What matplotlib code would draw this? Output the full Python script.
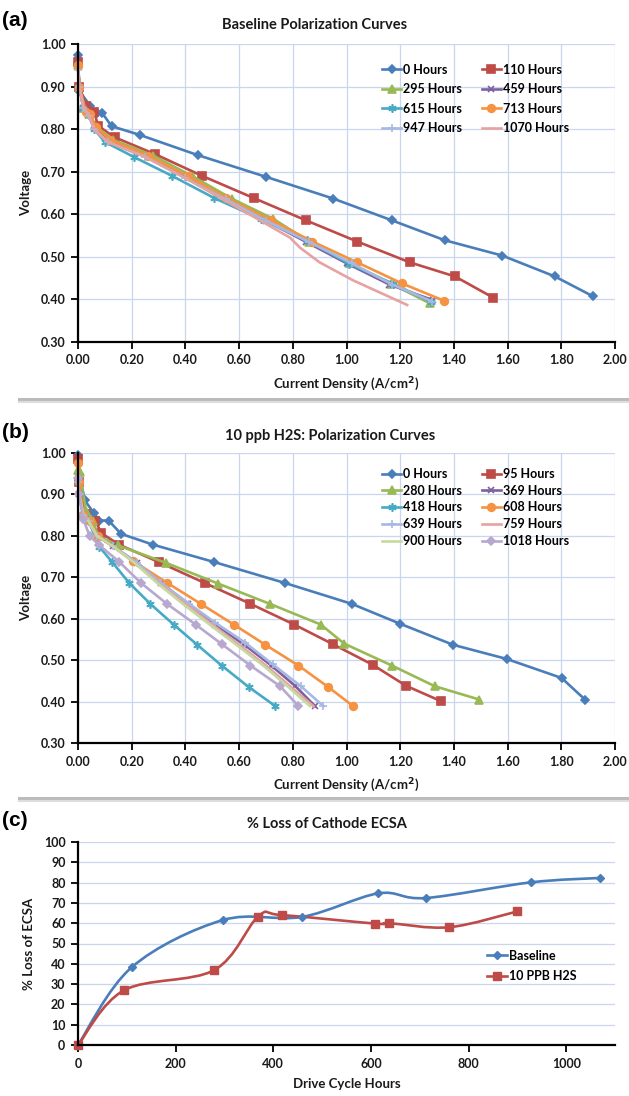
import numpy as np
import matplotlib
matplotlib.use("Agg")
import matplotlib.pyplot as plt
from matplotlib.path import Path
from matplotlib.patches import PathPatch
from matplotlib.lines import Line2D

plt.rcParams['font.family'] = ['Lato', 'DejaVu Sans']
plt.rcParams['font.weight'] = 'bold'

# ---- (a) baseline polarization curves ----
a_labels = ['0 Hours', '110 Hours', '295 Hours', '459 Hours',
            '615 Hours', '713 Hours', '947 Hours', '1070 Hours']
a_x = [
    [0.00, 0.005, 0.045, 0.07, 0.09, 0.125, 0.232, 0.446, 0.70, 0.95, 1.168, 1.366, 1.58, 1.776, 1.919],
    [0.00, 0.005, 0.03, 0.06, 0.075, 0.136, 0.288, 0.463, 0.655, 0.848, 1.04, 1.236, 1.404, 1.547],
    [0.00, 0.005, 0.02, 0.04, 0.07, 0.13, 0.28, 0.43, 0.575, 0.728, 0.86, 1.01, 1.166, 1.31],
    [0.00, 0.005, 0.02, 0.04, 0.07, 0.12, 0.26, 0.41, 0.55, 0.70, 0.85, 1.00, 1.16, 1.323],
    [0.00, 0.005, 0.02, 0.04, 0.06, 0.10, 0.21, 0.351, 0.508, 0.68, 0.852, 1.009, 1.173, 1.315],
    [0.00, 0.005, 0.03, 0.045, 0.067, 0.12, 0.26, 0.411, 0.553, 0.72, 0.873, 1.04, 1.205, 1.363],
    [0.00, 0.005, 0.02, 0.04, 0.06, 0.11, 0.25, 0.40, 0.55, 0.70, 0.86, 1.02, 1.17, 1.32],
    [0.00, 0.005, 0.02, 0.04, 0.06, 0.11, 0.25, 0.40, 0.54, 0.68, 0.79, 0.826, 0.90, 1.024, 1.226],
]
a_y = [
    [0.973, 0.89, 0.855, 0.838, 0.838, 0.807, 0.786, 0.739, 0.688, 0.637, 0.586, 0.539, 0.503, 0.454, 0.407],
    [0.958, 0.90, 0.855, 0.84, 0.808, 0.781, 0.741, 0.69, 0.638, 0.586, 0.536, 0.487, 0.454, 0.404],
    [0.95, 0.90, 0.85, 0.835, 0.805, 0.775, 0.738, 0.688, 0.636, 0.589, 0.536, 0.486, 0.437, 0.391],
    [0.95, 0.90, 0.85, 0.835, 0.80, 0.775, 0.735, 0.685, 0.635, 0.585, 0.535, 0.485, 0.435, 0.398],
    [0.95, 0.90, 0.85, 0.835, 0.80, 0.77, 0.734, 0.69, 0.638, 0.589, 0.539, 0.484, 0.437, 0.394],
    [0.95, 0.90, 0.84, 0.835, 0.805, 0.775, 0.738, 0.689, 0.638, 0.586, 0.536, 0.487, 0.438, 0.397],
    [0.94, 0.90, 0.85, 0.83, 0.80, 0.77, 0.735, 0.685, 0.635, 0.585, 0.535, 0.485, 0.435, 0.395],
    [0.94, 0.90, 0.85, 0.835, 0.80, 0.77, 0.735, 0.685, 0.635, 0.585, 0.545, 0.522, 0.487, 0.445, 0.387],
]

# ---- (b) 10 ppb H2S polarization curves ----
b_labels = ['0 Hours', '95 Hours', '280 Hours', '369 Hours', '418 Hours',
            '608 Hours', '639 Hours', '759 Hours', '900 Hours', '1018 Hours']
b_x = [
    [0.00, 0.005, 0.025, 0.059, 0.08, 0.114, 0.16, 0.278, 0.506, 0.772, 1.019, 1.199, 1.397, 1.596, 1.801, 1.888],
    [0.00, 0.004, 0.028, 0.065, 0.086, 0.152, 0.30, 0.473, 0.642, 0.805, 0.951, 1.097, 1.222, 1.352],
    [0.00, 0.006, 0.03, 0.056, 0.074, 0.148, 0.327, 0.521, 0.714, 0.904, 0.991, 1.169, 1.329, 1.494],
    [0.00, 0.004, 0.02, 0.04, 0.07, 0.13, 0.22, 0.31, 0.41, 0.51, 0.62, 0.72, 0.81, 0.883],
    [0.00, 0.004, 0.02, 0.04, 0.08, 0.127, 0.191, 0.269, 0.356, 0.444, 0.535, 0.636, 0.735],
    [0.00, 0.004, 0.02, 0.045, 0.074, 0.206, 0.331, 0.457, 0.58, 0.698, 0.821, 0.932, 1.025],
    [0.00, 0.004, 0.02, 0.04, 0.07, 0.13, 0.22, 0.31, 0.414, 0.512, 0.623, 0.725, 0.83, 0.914],
    [0.00, 0.004, 0.02, 0.04, 0.07, 0.13, 0.21, 0.30, 0.40, 0.50, 0.60, 0.70, 0.79, 0.877],
    [0.00, 0.004, 0.02, 0.04, 0.07, 0.13, 0.21, 0.295, 0.39, 0.49, 0.59, 0.69, 0.78, 0.864],
    [0.00, 0.004, 0.02, 0.043, 0.08, 0.154, 0.235, 0.331, 0.438, 0.537, 0.642, 0.753, 0.821],
]
b_y = [
    [0.995, 0.95, 0.886, 0.855, 0.837, 0.837, 0.805, 0.779, 0.737, 0.686, 0.636, 0.588, 0.537, 0.503, 0.457, 0.405],
    [0.986, 0.93, 0.852, 0.837, 0.807, 0.779, 0.737, 0.686, 0.636, 0.586, 0.538, 0.489, 0.438, 0.401],
    [0.96, 0.954, 0.86, 0.837, 0.80, 0.777, 0.735, 0.685, 0.636, 0.586, 0.54, 0.487, 0.437, 0.405],
    [0.93, 0.90, 0.85, 0.835, 0.80, 0.775, 0.735, 0.686, 0.636, 0.586, 0.537, 0.487, 0.437, 0.389],
    [0.93, 0.90, 0.85, 0.835, 0.773, 0.737, 0.686, 0.636, 0.586, 0.537, 0.487, 0.435, 0.389],
    [0.976, 0.93, 0.85, 0.835, 0.80, 0.739, 0.687, 0.636, 0.586, 0.537, 0.487, 0.435, 0.389],
    [0.93, 0.90, 0.85, 0.835, 0.80, 0.775, 0.735, 0.686, 0.636, 0.59, 0.542, 0.49, 0.437, 0.389],
    [0.93, 0.90, 0.85, 0.835, 0.80, 0.775, 0.735, 0.686, 0.636, 0.586, 0.537, 0.487, 0.437, 0.389],
    [0.93, 0.90, 0.85, 0.835, 0.80, 0.775, 0.735, 0.686, 0.636, 0.586, 0.537, 0.487, 0.437, 0.389],
    [0.94, 0.90, 0.84, 0.80, 0.777, 0.737, 0.686, 0.636, 0.586, 0.538, 0.487, 0.437, 0.389],
]

# ---- (c) % loss of cathode ECSA ----
base_hours = [0, 110, 296, 459, 615, 712, 927, 1070]
base_loss = [0, 38.3, 61.5, 63.1, 74.7, 72.4, 80.1, 82.3]
h2s_hours = [0, 94, 279, 369, 417, 609, 638, 760, 900]
h2s_loss = [0, 26.9, 36.9, 63.3, 64.0, 59.8, 60.0, 58.0, 65.8]

# excel 2007 style palette
colors = ['#4A7EBB', '#BE4B48', '#98B954', '#7D60A0', '#46AAC5',
          '#F69240', '#A7B9E3', '#E6A3A1', '#C6D9A0', '#B7A8CF']
a_styles = [('D', 4), ('s', 5.5), ('^', 5.5), ('x', 5), ((6, 2, 0), 6),
            ('o', 5.5), ('+', 6), (None, 0)]
b_styles = [('D', 4), ('s', 5.5), ('^', 5.5), ('x', 5), ((6, 2, 0), 6),
            ('o', 5.5), ('+', 6), (None, 0), (None, 0), ('D', 4.5)]

grid_col = '#C9D6EE'
txt_col = '#1a1a1a'

fig = plt.figure(figsize=(6.29, 10.96), dpi=100)
W, H = 629, 1096


def box(left, top, right, bottom):
    return [left / W, 1 - bottom / H, (right - left) / W, (bottom - top) / H]


ax_a = fig.add_axes(box(78, 44, 615, 342))
ax_b = fig.add_axes(box(78, 453, 615, 743))
ax_c = fig.add_axes(box(78, 842, 615, 1045))


def style_axes(ax):
    for s in ['top', 'right']:
        ax.spines[s].set_visible(False)
    for s in ['left', 'bottom']:
        ax.spines[s].set_linewidth(1.6)
        ax.spines[s].set_color('black')
    ax.tick_params(direction='out', length=5, width=1.3, labelsize=9,
                   labelcolor=txt_col, pad=4)
    for lab in ax.get_xticklabels() + ax.get_yticklabels():
        lab.set_fontweight('bold')
    ax.set_axisbelow(True)


def polar_panel(ax, xs, ys, labels, styles):
    handles = []
    for i, (x, y) in enumerate(zip(xs, ys)):
        m, ms = styles[i]
        h, = ax.plot(x, y, color=colors[i], lw=1.9, marker=m, ms=ms,
                     mew=1.2, mec=colors[i], mfc=colors[i], label=labels[i],
                     clip_on=False)
        handles.append(h)
    ax.set_xlim(0, 2.0)
    ax.set_ylim(0.30, 1.00)
    ax.set_xticks(np.arange(0, 2.01, 0.2))
    ax.set_yticks(np.arange(0.3, 1.001, 0.1))
    ax.set_xticklabels([f'{v:.2f}' for v in np.arange(0, 2.01, 0.2)])
    ax.set_yticklabels([f'{v:.2f}' for v in np.arange(0.3, 1.001, 0.1)])
    ax.grid(True, color=grid_col, lw=0.9)
    ax.set_ylabel('Voltage', fontsize=9.5, fontweight='bold', color=txt_col, labelpad=6)
    ax.set_xlabel('Current Density (A/cm$^\\mathbf{2}$)', fontsize=9.5,
                  fontweight='bold', color=txt_col, labelpad=6)
    style_axes(ax)
    # two column legend filled row by row
    order = list(range(0, len(handles), 2)) + list(range(1, len(handles), 2))
    return [handles[k] for k in order]


ha = polar_panel(ax_a, a_x, a_y, a_labels, a_styles)
ax_a.legend(handles=ha, ncol=2, frameon=False, loc='upper left',
            bbox_to_anchor=(0.555, 0.955), handlelength=1.5,
            handletextpad=0.15, columnspacing=1.6, labelspacing=0.6,
            borderpad=0, prop={'weight': 'bold', 'size': 9})

hb = polar_panel(ax_b, b_x, b_y, b_labels, b_styles)
ax_b.legend(handles=hb, ncol=2, frameon=False, loc='upper left',
            bbox_to_anchor=(0.555, 0.97), handlelength=1.5,
            handletextpad=0.15, columnspacing=1.6, labelspacing=0.38,
            borderpad=0, prop={'weight': 'bold', 'size': 9})


def smooth_path(x, y):
    pts = np.column_stack([x, y]).astype(float)
    n = len(pts)
    verts = [pts[0]]
    codes = [Path.MOVETO]
    for i in range(n - 1):
        p0 = pts[max(i - 1, 0)]
        p1 = pts[i]
        p2 = pts[i + 1]
        p3 = pts[min(i + 2, n - 1)]
        verts += [p1 + (p2 - p0) / 6, p2 - (p3 - p1) / 6, p2]
        codes += [Path.CURVE4] * 3
    return Path(verts, codes)


for hx, hy, col, mk, ms, lab in [(base_hours, base_loss, colors[0], 'D', 4, 'Baseline'),
                                 (h2s_hours, h2s_loss, colors[1], 's', 5.5, '10 PPB H2S')]:
    ax_c.add_patch(PathPatch(smooth_path(hx, hy), facecolor='none',
                             edgecolor=col, lw=1.9, clip_on=False))
    ax_c.plot(hx, hy, ls='none', marker=mk, ms=ms, color=col, clip_on=False)
    ax_c.plot([], [], color=col, lw=1.9, marker=mk, ms=ms, label=lab)

ax_c.set_xlim(0, 1100)
ax_c.set_ylim(0, 100)
ax_c.set_xticks(np.arange(0, 1001, 200))
ax_c.set_yticks(np.arange(0, 101, 10))
ax_c.grid(True, axis='y', color=grid_col, lw=0.9)
ax_c.set_ylabel('% Loss of ECSA', fontsize=9.5, fontweight='bold', color=txt_col, labelpad=6)
ax_c.set_xlabel('Drive Cycle Hours', fontsize=9.5, fontweight='bold', color=txt_col, labelpad=6)
style_axes(ax_c)
ax_c.legend(frameon=False, loc='upper left', bbox_to_anchor=(0.75, 0.5),
            handlelength=1.6, handletextpad=0.15, labelspacing=0.65,
            borderpad=0, prop={'weight': 'bold', 'size': 9})

# titles and panel letters
fig.text(315 / W, 1 - 25 / H, 'Baseline Polarization Curves', ha='center', va='center',
         fontsize=10.5, fontweight='bold', color=txt_col)
fig.text(330 / W, 1 - 436 / H, '10 ppb H2S: Polarization Curves', ha='center', va='center',
         fontsize=10.5, fontweight='bold', color=txt_col)
fig.text(327 / W, 1 - 824 / H, '% Loss of Cathode ECSA', ha='center', va='center',
         fontsize=10.5, fontweight='bold', color=txt_col)
for lab, yy in [('(a)', 20), ('(b)', 432), ('(c)', 821)]:
    fig.text(2 / W, 1 - yy / H, lab, ha='left', va='center', fontsize=15,
             fontweight='bold', family='Liberation Sans', color='black')

# grey panel separators
for yy in [399, 798]:
    fig.add_artist(Line2D([0.03, 1], [1 - yy / H, 1 - yy / H], color='#BBBBBB', lw=2.2))
    fig.add_artist(Line2D([0.03, 1], [1 - (yy + 3) / H, 1 - (yy + 3) / H], color='#DDDDDD', lw=1.5))

fig.savefig('out.png', dpi=100, facecolor='white')
